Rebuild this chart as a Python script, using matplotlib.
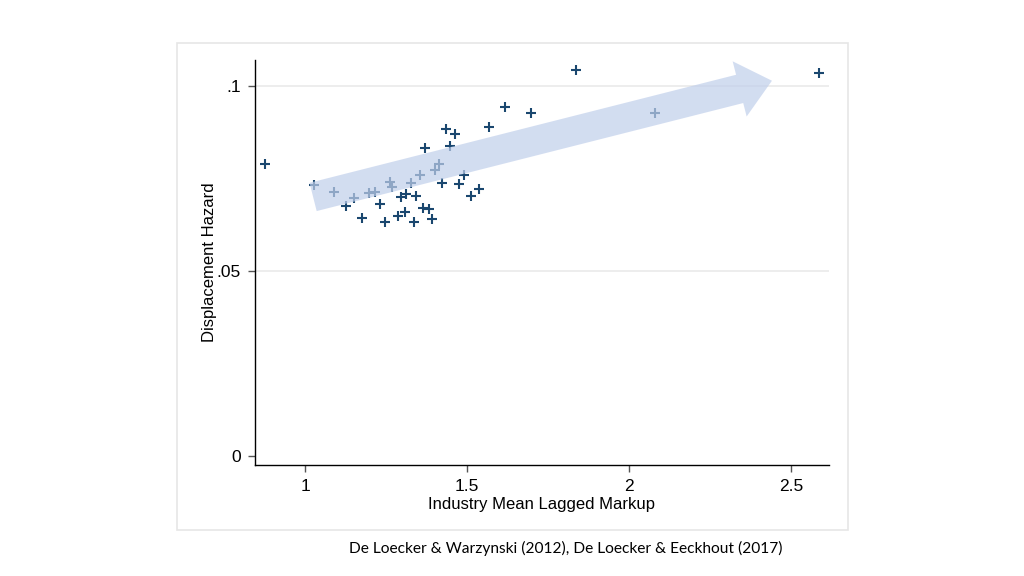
import matplotlib
matplotlib.use("Agg")
import matplotlib.pyplot as plt
from matplotlib.patches import FancyArrowPatch, Rectangle

# Datos
markup = [0.877, 1.028, 1.090, 1.127, 1.151, 1.176, 1.198, 1.216, 1.231, 1.247,
          1.262, 1.269, 1.287, 1.296, 1.309, 1.312, 1.327, 1.336, 1.343, 1.355,
          1.364, 1.370, 1.383, 1.392, 1.401, 1.414, 1.423, 1.435, 1.448, 1.463,
          1.475, 1.491, 1.512, 1.537, 1.568, 1.617, 1.698, 1.836, 2.080, 2.586]
hazard = [0.0789, 0.0732, 0.0714, 0.0676, 0.0697, 0.0643, 0.0711, 0.0714, 0.0681, 0.0632,
          0.0740, 0.0728, 0.0649, 0.0700, 0.0659, 0.0708, 0.0738, 0.0632, 0.0703, 0.0759,
          0.0670, 0.0832, 0.0668, 0.0641, 0.0772, 0.0788, 0.0738, 0.0884, 0.0838, 0.0870,
          0.0735, 0.0759, 0.0703, 0.0722, 0.0890, 0.0944, 0.0928, 0.1043, 0.0927, 0.1035]

xticks = [1, 1.5, 2, 2.5]
xticklabels = ["1", "1.5", "2", "2.5"]
yticks = [0, 0.05, 0.1]
yticklabels = ["0", ".05", ".1"]

# Flecha (inicio y fin, en unidades de datos)
arrow_start = (1.025, 0.0700)
arrow_end = (2.441, 0.1014)

font = ["Liberation Sans", "DejaVu Sans"]
navy = "#1a476f"

fig = plt.figure(figsize=(10.24, 5.76), dpi=100)

# marco gris claro estilo Stata
fig.patches.append(Rectangle((177 / 1024, 1 - 530 / 576), (848 - 177) / 1024, (530 - 43) / 576,
                             transform=fig.transFigure, fill=False,
                             edgecolor="#e6e6e6", linewidth=1.2))

ax = fig.add_axes([255 / 1024, 1 - 465 / 576, (829 - 255) / 1024, (465 - 60) / 576])

for y in [0.05, 0.1]:
    ax.axhline(y, color="#ececec", linewidth=1.3, zorder=0)

ax.scatter(markup, hazard, marker="+", s=42, color=navy, linewidths=1.5, zorder=2)

arrow = FancyArrowPatch(arrow_start, arrow_end,
                        arrowstyle="simple,tail_width=21,head_width=41,head_length=24",
                        mutation_scale=1, shrinkA=0, shrinkB=0,
                        color="#c0cfeb", alpha=0.7, linewidth=0, zorder=3)
ax.add_patch(arrow)

ax.set_xlim(0.8457, 2.617)
ax.set_ylim(-0.00243, 0.107)

ax.set_xticks(xticks)
ax.set_xticklabels(xticklabels, family=font, fontsize=12.5, stretch="condensed")
ax.set_yticks(yticks)
ax.set_yticklabels(yticklabels, family=font, fontsize=12.5, stretch="condensed")
ax.tick_params(direction="out", length=5, width=1, color="#555555", pad=5)

ax.set_xlabel("Industry Mean Lagged Markup", family=font, fontsize=12, labelpad=2)
ax.set_ylabel("Displacement Hazard", family=font, fontsize=12, labelpad=0)

ax.spines["top"].set_visible(False)
ax.spines["right"].set_visible(False)
ax.spines["left"].set_linewidth(1)
ax.spines["bottom"].set_linewidth(1)

fig.text(566 / 1024, 1 - 548 / 576, "De Loecker & Warzynski (2012), De Loecker & Eeckhout (2017)",
         ha="center", va="center", family=["Lato", "DejaVu Sans"], fontsize=11.2)

fig.savefig("out.png", dpi=100)
